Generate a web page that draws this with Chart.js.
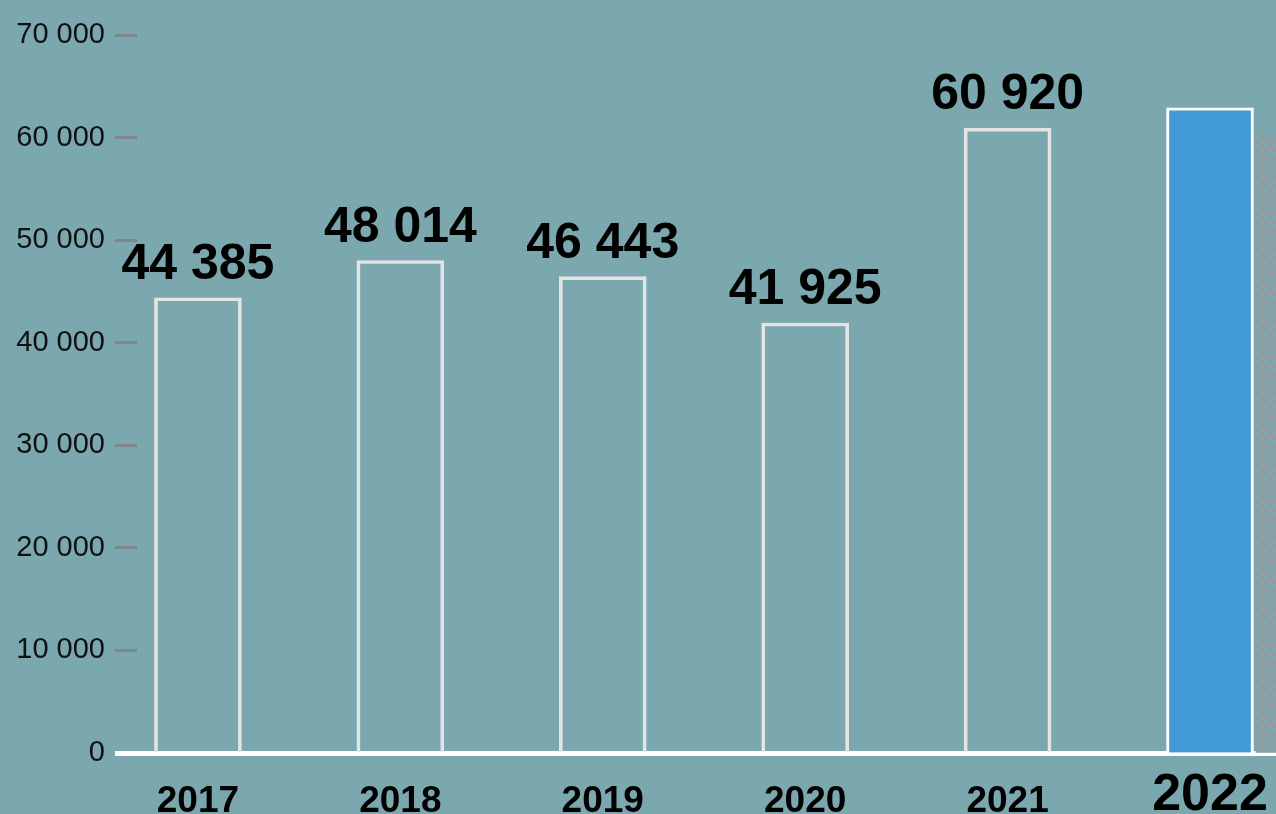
<!DOCTYPE html>
<html lang="ru">
<head>
    <meta charset="UTF-8">
    <title>Итоги по годам</title>
    <script src="https://cdn.jsdelivr.net/npm/chart.js"></script>
    <style>
        html, body { margin: 0; padding: 0; background: #7ba7ae; }
        .chart-wrap { position: relative; width: 1276px; height: 814px; }
    </style>
</head>
<body>
    <div class="chart-wrap">
        <canvas id="yearChart"></canvas>
    </div>

    <script>
        // data
        const years = [2017, 2018, 2019, 2020, 2021, 2022];
        const totals = [44385, 48014, 46443, 41925, 60920, 62900];
        const shadeYears = [2022];
        const shadeValues = [60400];
        const yTickValues = [0, 10000, 20000, 30000, 40000, 50000, 60000, 70000];
        const currentYear = 2022;

        const FONT = '"Liberation Sans", Arial, Helvetica, sans-serif';
        const BG = '#7ba7ae';

        // "70 000" style
        function fmt(v) {
            return String(v).replace(/\B(?=(\d{3})+(?!\d))/g, ' ');
        }

        // diagonal hatch for the cut-off bar on the right
        function hatch() {
            const c = document.createElement('canvas');
            c.width = 9; c.height = 9;
            const g = c.getContext('2d');
            g.fillStyle = BG;
            g.fillRect(0, 0, 9, 9);
            g.strokeStyle = '#9b969b';
            g.lineWidth = 2.5;
            g.beginPath();
            g.moveTo(0, 0); g.lineTo(9, 9);
            g.moveTo(-2, 7); g.lineTo(2, 11);
            g.moveTo(7, -2); g.lineTo(11, 2);
            g.stroke();
            return g.createPattern(c, 'repeat');
        }

        // big numbers above the bars
        const valueLabels = {
            id: 'valueLabels',
            afterDatasetsDraw(chart) {
                const ctx = chart.ctx;
                const meta = chart.getDatasetMeta(0);
                ctx.save();
                ctx.font = 'bold 50px ' + FONT;
                ctx.fillStyle = '#000';
                ctx.textAlign = 'center';
                ctx.textBaseline = 'alphabetic';
                meta.data.forEach((bar, i) => {
                    if (years[i] === currentYear) return; // hidden in the source
                    ctx.fillText(fmt(totals[i]), bar.x, bar.y - 19);
                });
                ctx.restore();
            }
        };

        const xMin = 2016.699, xMax = 2022.326, shift = 0.442;

        const yearCtx = document.getElementById('yearChart').getContext('2d');
        const yearChart = new Chart(yearCtx, {
            type: 'bar',
            data: {
                datasets: [{
                    data: years.map((y, i) => ({ x: y, y: totals[i] })),
                    backgroundColor: years.map(y => y === currentYear ? '#429bd6' : 'rgba(0,0,0,0)'),
                    borderColor: years.map(y => y === currentYear ? '#ffffff' : '#e4e4e4'),
                    borderWidth: 3,
                    barThickness: 87,
                    grouped: false,
                    xAxisID: 'x'
                }, {
                    data: shadeYears.map((y, i) => ({ x: y, y: shadeValues[i] })),
                    backgroundColor: hatch(),
                    borderWidth: 0,
                    barThickness: 87,
                    grouped: false,
                    xAxisID: 'x2'
                }]
            },
            options: {
                responsive: true,
                maintainAspectRatio: false,
                animation: false,
                layout: { padding: { top: 35, left: 0, right: 0, bottom: 0 } },
                plugins: {
                    legend: { display: false },
                    tooltip: { enabled: false }
                },
                scales: {
                    x: {
                        type: 'linear',
                        min: xMin,
                        max: xMax,
                        offset: false,
                        grid: { display: false },
                        border: { color: '#ffffff', width: 5 },
                        afterBuildTicks: s => { s.ticks = years.map(v => ({ value: v })); },
                        afterFit: s => {
                            s.height = 61;
                            s.paddingLeft = 0;
                            s.paddingRight = 0;
                        },
                        ticks: {
                            padding: 19,
                            color: '#000',
                            autoSkip: false,
                            maxRotation: 0,
                            callback: v => String(v),
                            font: c => (c.tick && c.tick.value === currentYear)
                                ? { family: FONT, size: 52, weight: 'bold', lineHeight: 0.6 }
                                : { family: FONT, size: 37, weight: 'bold' }
                        }
                    },
                    x2: {
                        type: 'linear',
                        display: false,
                        min: xMin - shift,
                        max: xMax - shift,
                        offset: false
                    },
                    y: {
                        min: 0,
                        max: 70000,
                        afterBuildTicks: s => { s.ticks = yTickValues.map(v => ({ value: v })); },
                        afterFit: s => { s.width = 137; },
                        border: { display: false },
                        grid: {
                            drawOnChartArea: false,
                            tickLength: 22,
                            tickColor: c => c.tick && c.tick.value === 0 ? '#ffffff' : '#80878b',
                            tickWidth: c => c.tick && c.tick.value === 0 ? 5 : 3
                        },
                        ticks: {
                            padding: 10,
                            color: '#111',
                            font: { family: FONT, size: 29 },
                            callback: v => fmt(v)
                        }
                    }
                }
            },
            plugins: [valueLabels]
        });
    </script>
</body>
</html>
